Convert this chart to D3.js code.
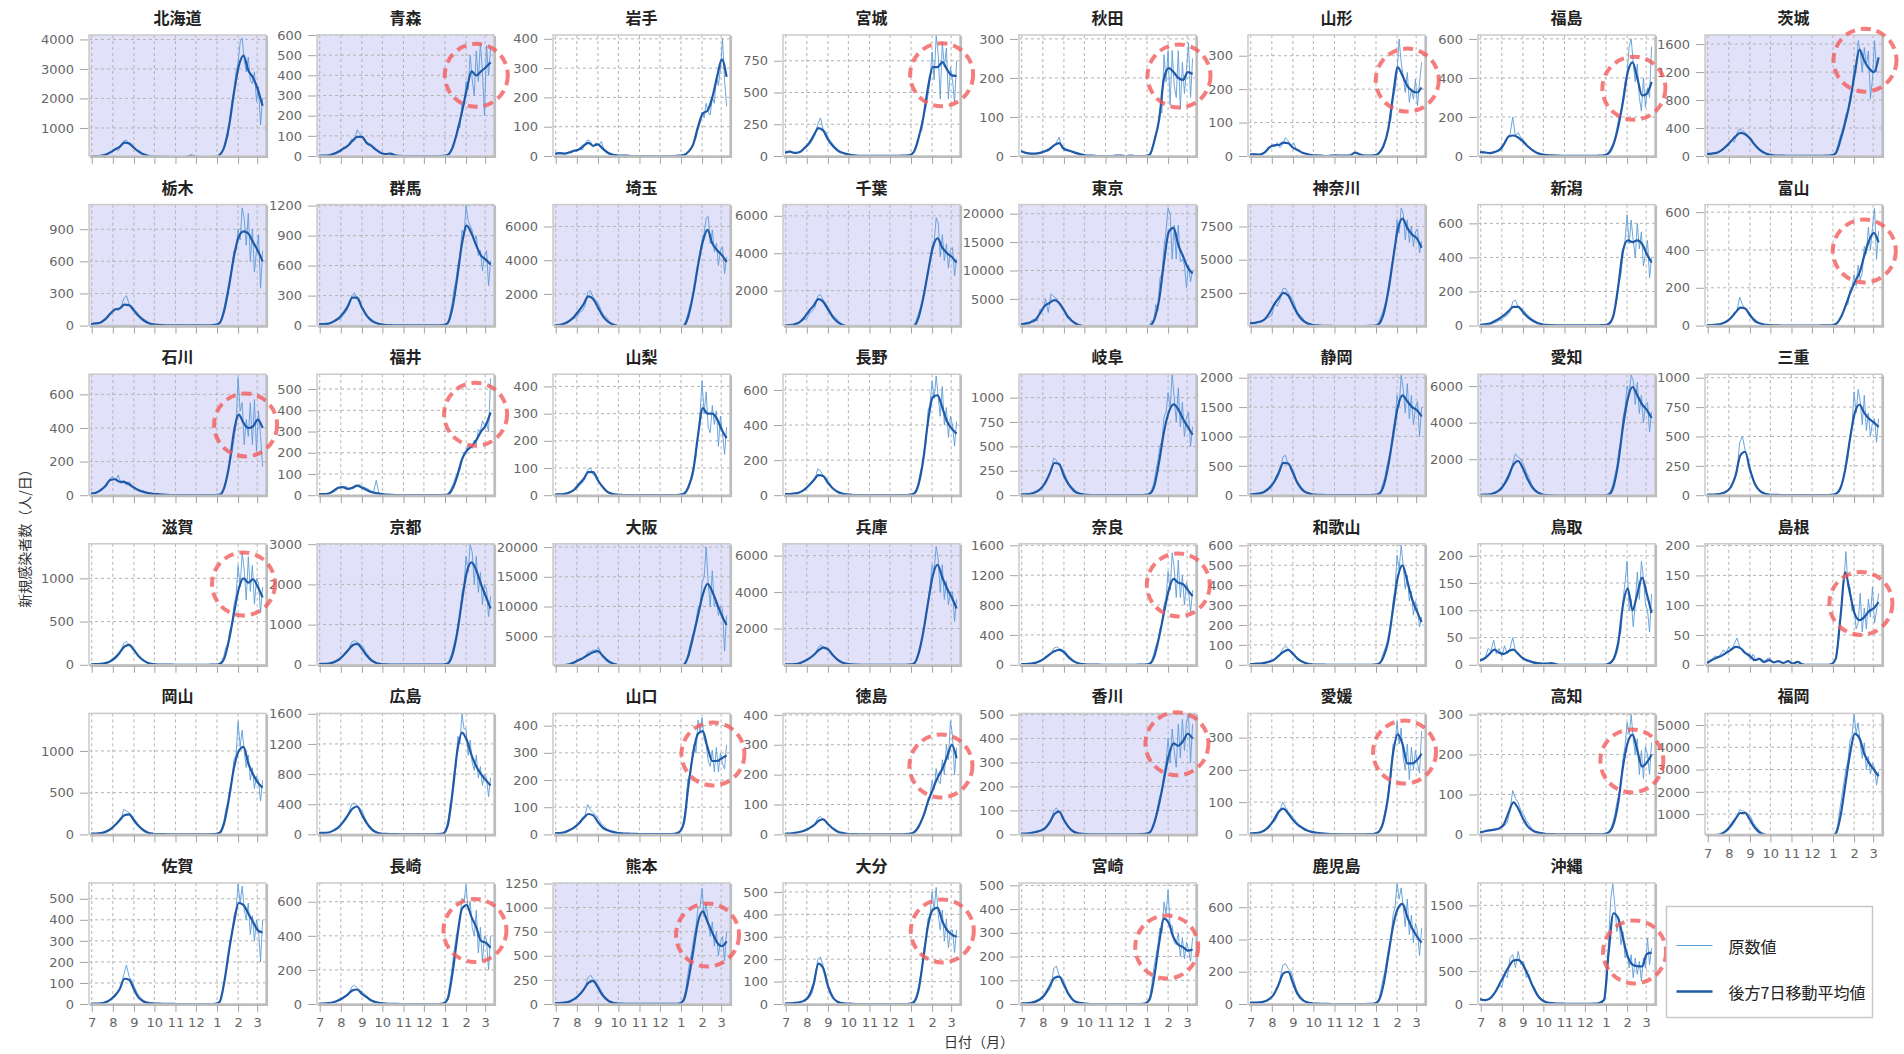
<!DOCTYPE html>
<html>
<head>
<meta charset="utf-8">
<script src="https://cdn.jsdelivr.net/npm/d3@7"></script>
<style>
  html, body { margin: 0; padding: 0; background: #fff; }
  svg { display: block; }
</style>
</head>
<body>
<svg id="chart" width="1904" height="1054"></svg>
<script>
// ---------------------------------------------------------------
// Daily new COVID-19 cases by prefecture, Jul 2021 – Mar 2022
// ---------------------------------------------------------------

const prefectures = [
  "北海道","青森","岩手","宮城","秋田","山形","福島","茨城",
  "栃木","群馬","埼玉","千葉","東京","神奈川","新潟","富山",
  "石川","福井","山梨","長野","岐阜","静岡","愛知","三重",
  "滋賀","京都","大阪","兵庫","奈良","和歌山","鳥取","島根",
  "岡山","広島","山口","徳島","香川","愛媛","高知","福岡",
  "佐賀","長崎","熊本","大分","宮崎","鹿児島","沖縄"
];

// 1 = under priority preventive measures (shaded panel)
const priority = [
  1,1,0,0,0,0,0,1,
  1,1,1,1,1,1,0,0,
  1,0,0,0,1,1,1,0,
  0,1,1,1,0,0,0,0,
  0,0,0,0,1,0,0,0,
  0,0,1,0,0,0,0
];

// y-axis ranges and tick steps (persons/day)
const yMin = [
  50,0,0,0,0,0,0,0,
  0,0,120,130,300,40,0,0,
  0,0,0,0,0,0,30,0,
  0,0,200,10,0,0,0,0,
  0,0,0,0,0,0,0,90,
  0,0,0,0,0,0,0
];
const yMax = [
  4150,600,413,953,310,362,620,1730,
  1130,1210,7300,6600,21600,9150,710,640,
  720,570,445,690,1240,2060,6650,1030,
  1400,3010,20550,6650,1620,608,222,203,
  1450,1605,445,405,505,375,303,5520,
  575,710,1255,540,510,750,1840
];
const yStep = [
  1000,100,100,250,100,100,200,400,
  300,300,2000,2000,5000,2500,200,200,
  200,100,100,200,250,500,2000,250,
  500,1000,5000,2000,400,100,50,50,
  500,400,100,100,100,100,100,1000,
  100,200,250,100,100,200,500
];

// Month ticks on the time axis
const monthTickDates = ["2021-07-01","2021-08-01","2021-09-01","2021-10-01","2021-11-01",
                        "2021-12-01","2022-01-01","2022-02-01","2022-03-01"];
const monthTickLabels = ["7","8","9","10","11","12","1","2","3"];

// Backward 7-day moving average, weekly from 2021-06-30 to 2022-03-09
const avgStart = "2021-06-30", avgStepDays = 7;
const avgValues = [
  /* 北海道 */ [45,45,55,90,170,270,360,500,480,330,200,110,60,40, 30,25,20,15,12,15,25,60,30,15,12,12,20, 90,380,1100,2200,3100,3450,2950,2700,2300,1750],
  /* 青森 */ [2,2,3,10,20,35,50,75,95,95,65,50,30,15, 10,12,3,1,0,0,0,0,0,0,0,0,1, 5,40,120,220,330,420,400,420,440,465],
  /* 岩手 */ [8,10,8,12,18,22,35,45,35,40,25,12,5,2, 1,1,0,0,0,0,0,0,0,0,0,0,1, 3,15,40,100,145,155,200,270,330,270],
  /* 宮城 */ [25,35,25,30,60,100,160,220,200,130,80,45,25,15, 8,4,2,1,1,1,1,1,1,1,2,3,5, 30,140,300,540,700,700,740,680,635,630],
  /* 秋田 */ [12,8,6,6,8,12,18,28,33,18,14,10,6,3, 1,1,0,0,0,0,1,1,0,1,0,0,0, 3,40,95,200,225,215,200,195,215,210],
  /* 山形 */ [5,5,4,10,25,32,33,40,38,25,18,10,6,3, 2,1,0,1,2,1,1,2,10,5,1,1,2, 8,30,80,180,265,240,210,195,190,205],
  /* 福島 */ [20,18,15,20,30,60,100,105,95,75,50,30,15,8, 4,3,2,1,1,1,1,1,1,1,1,2,4, 15,60,150,280,430,480,400,310,320,380],
  /* 茨城 */ [30,35,45,80,140,210,280,330,310,250,160,90,45,20, 10,6,4,3,2,2,2,2,2,2,3,4,8, 40,230,480,780,1180,1520,1360,1250,1200,1410],
  /* 栃木 */ [15,20,30,60,110,150,160,195,190,140,90,50,25,12, 6,4,3,2,2,2,2,2,2,2,3,3,6, 25,150,380,650,830,880,860,780,700,600],
  /* 群馬 */ [15,15,20,40,70,120,190,280,280,180,100,50,25,12, 6,4,3,2,2,2,2,2,2,2,2,3,5, 25,180,480,820,1000,920,800,700,660,610],
  /* 埼玉 */ [150,170,250,400,650,1000,1400,1850,1700,1200,700,380,200,100, 50,30,20,10,8,6,5,5,5,5,8,12,25, 100,700,2000,3700,5100,5800,5000,4600,4300,3900],
  /* 千葉 */ [150,160,200,300,550,900,1200,1550,1400,1000,600,330,170,80, 40,25,15,10,6,5,4,4,4,5,7,10,20, 80,550,1600,3000,4300,4800,4300,4000,3800,3500],
  /* 東京 */ [560,650,900,1300,2500,3800,4300,4800,4300,3000,1700,900,450,230, 130,70,40,25,20,20,20,20,15,15,20,30,60, 200,1500,5000,11500,16800,17500,14500,12500,10500,9500],
  /* 神奈川 */ [220,250,330,500,950,1600,2100,2500,2300,1600,900,450,220,100, 50,30,20,12,10,8,8,8,8,8,10,15,30, 150,900,2600,5000,7300,8100,7400,6900,6600,5900],
  /* 新潟 */ [5,8,12,25,40,60,85,110,110,80,50,30,15,8, 4,3,2,1,1,1,1,1,1,1,1,2,3, 10,60,230,440,500,490,500,480,420,370],
  /* 富山 */ [3,3,5,10,20,40,70,95,90,55,25,12,5,3, 1,1,0,0,0,0,0,0,0,0,1,1,2, 8,40,100,170,230,280,370,450,490,440],
  /* 石川 */ [10,15,30,55,90,95,80,78,65,45,30,20,12,8, 6,4,2,1,0,0,0,0,0,0,0,1,1, 3,50,180,380,480,430,400,410,450,400],
  /* 福井 */ [5,5,8,20,35,38,30,35,45,35,25,15,10,6, 3,2,1,1,0,0,0,0,0,0,0,0,1, 3,30,90,170,210,230,260,300,330,390],
  /* 山梨 */ [3,3,5,10,20,40,60,85,85,55,30,12,5,2, 1,0,0,0,0,0,0,0,0,0,0,0,1, 5,30,90,220,320,300,300,280,240,210],
  /* 長野 */ [8,6,10,15,30,55,85,115,110,70,40,20,10,5, 2,1,1,1,0,0,0,0,0,0,1,1,2, 8,60,200,420,560,570,500,420,380,350],
  /* 岐阜 */ [8,10,15,30,60,120,220,330,320,200,110,50,20,8, 4,2,2,1,1,1,1,1,1,1,1,1,3, 15,100,350,650,850,930,880,780,700,620],
  /* 静岡 */ [15,20,30,60,120,220,380,550,540,380,200,90,40,15, 8,5,3,2,2,2,2,2,2,2,2,3,5, 20,150,500,1000,1500,1700,1600,1500,1450,1340],
  /* 愛知 */ [50,60,80,150,300,600,1100,1700,1900,1500,900,450,200,80, 35,20,12,8,6,5,5,5,5,5,5,8,15, 60,500,1800,3800,5300,5950,5500,5000,4700,4250],
  /* 三重 */ [5,5,8,15,30,70,170,340,370,220,100,40,15,6, 3,2,1,1,1,0,0,0,0,0,0,1,2, 10,60,220,480,700,770,700,650,620,580],
  /* 滋賀 */ [5,8,10,20,40,80,140,210,230,170,100,50,20,8, 3,2,1,1,0,0,0,0,0,0,0,1,2, 10,80,300,600,880,1000,950,990,900,780],
  /* 京都 */ [20,25,30,60,120,220,350,480,520,400,230,110,45,20, 10,6,4,3,2,2,2,2,2,2,3,4,8, 30,250,800,1600,2300,2550,2350,2000,1700,1400],
  /* 大阪 */ [90,100,150,280,600,1000,1400,1900,2300,2500,1700,900,450,200, 100,60,40,25,15,12,10,10,10,10,12,20,40, 200,1800,5000,8500,12000,13800,12500,10500,8500,6900],
  /* 兵庫 */ [40,40,50,90,200,350,550,800,950,850,550,300,140,60, 30,20,12,8,5,4,4,4,4,4,5,8,15, 60,600,1800,3400,4900,5500,4800,4200,3700,3100],
  /* 奈良 */ [10,10,15,25,50,90,140,180,200,170,100,50,20,8, 4,3,2,1,1,1,1,1,1,1,1,2,3, 15,120,380,700,1000,1150,1100,1080,1000,920],
  /* 和歌山 */ [3,5,6,10,15,25,45,65,75,55,30,15,6,2, 1,1,0,0,0,0,0,0,0,0,0,0,1, 5,40,120,280,440,500,420,330,270,215],
  /* 鳥取 */ [8,12,20,28,22,20,25,28,20,12,8,5,3,2, 2,3,1,0,0,0,0,0,0,0,0,0,0, 2,10,40,110,140,100,130,160,130,95],
  /* 島根 */ [3,8,12,15,20,25,30,28,20,15,8,10,5,8, 4,6,3,6,2,5,1,0,0,0,0,0,1, 10,80,155,120,85,75,80,90,95,105],
  /* 岡山 */ [10,10,15,30,60,110,170,230,240,170,100,50,20,8, 4,3,2,2,1,1,1,1,1,1,1,2,4, 20,150,450,800,1000,1050,850,720,620,560],
  /* 広島 */ [20,20,25,50,90,160,250,340,370,260,150,70,30,12, 6,4,3,2,2,2,2,2,2,2,2,3,10, 120,550,1100,1350,1250,1050,900,800,720,650],
  /* 山口 */ [5,5,8,15,25,40,60,75,70,45,25,15,10,6, 4,3,2,2,1,1,1,1,1,1,1,2,8, 40,180,300,370,380,320,270,270,280,290],
  /* 徳島 */ [3,3,5,8,12,20,30,45,50,35,20,10,5,2, 1,1,0,0,0,0,0,0,0,0,0,1,2, 6,25,60,110,150,190,220,260,300,255],
  /* 香川 */ [3,3,5,10,15,25,50,85,95,60,30,12,5,2, 1,0,0,0,0,0,0,0,0,0,0,1,2, 8,50,130,230,330,380,370,390,420,400],
  /* 愛媛 */ [3,4,6,12,25,45,70,80,65,45,30,20,12,8, 5,3,2,1,1,0,0,0,0,0,0,1,2, 8,40,120,250,310,280,220,220,230,250],
  /* 高知 */ [5,8,10,12,15,25,55,80,65,40,20,10,5,3, 1,1,0,0,0,0,0,0,0,0,0,0,1, 5,25,80,170,230,250,210,170,180,200],
  /* 福岡 */ [40,40,60,120,250,500,800,1050,1050,750,400,180,80,35, 15,10,8,6,5,5,5,5,5,5,5,8,20, 120,900,2300,3700,4600,4400,3700,3300,3000,2700],
  /* 佐賀 */ [2,2,3,8,20,40,70,120,115,70,30,12,5,3, 2,1,1,1,0,0,0,0,0,0,0,0,1, 10,110,260,390,480,470,430,390,350,340],
  /* 長崎 */ [3,3,5,10,20,35,55,80,85,60,40,20,10,5, 2,1,1,0,0,0,0,0,0,0,0,0,2, 30,180,390,560,580,510,450,370,360,330],
  /* 熊本 */ [10,10,15,25,50,90,150,220,240,170,90,40,15,6, 3,2,1,1,1,1,1,1,1,1,1,2,5, 40,250,550,850,960,850,740,640,600,650],
  /* 大分 */ [3,3,5,8,15,35,90,180,160,80,30,10,4,2, 1,0,0,0,0,0,0,0,0,0,0,0,1, 8,60,200,350,420,430,370,330,310,300],
  /* 宮崎 */ [3,3,5,10,20,40,75,110,115,80,40,15,6,3, 1,0,0,0,0,0,0,0,0,0,0,0,2, 20,120,260,360,340,280,250,240,225,230],
  /* 鹿児島 */ [8,8,10,15,30,60,120,190,200,130,60,25,10,4, 2,1,1,0,0,0,0,0,0,0,0,1,3, 20,120,300,480,590,620,540,470,420,380],
  /* 沖縄 */ [70,60,80,160,290,430,560,660,670,600,450,280,140,60, 25,12,8,5,4,3,3,3,3,3,5,15,60, 800,1380,1300,1000,720,600,575,570,760,780]
];

// Reported daily counts, summer wave: every 4 days from 2021-06-30
const summerStart = "2021-06-30", summerStepDays = 4;
const rawSummer = [
  /* 北海道 */ [40,55,35,60,50,100,110,190,180,300,230,420,560,590,430,380,340,210,230,120,100,60,40,45,25],
  /* 青森 */ [3,2,4,2,6,12,18,25,20,45,40,60,85,75,130,110,95,70,55,60,35,30,20,12,10],
  /* 岩手 */ [6,12,8,10,7,14,10,20,15,25,20,40,55,50,30,45,35,50,20,18,8,6,4,2,1],
  /* 宮城 */ [20,30,40,25,20,35,30,60,70,90,120,170,250,300,210,190,140,110,80,60,40,30,20,15,10],
  /* 秋田 */ [15,10,8,6,5,7,6,9,8,14,12,20,25,35,48,20,22,15,12,10,6,7,4,3,2],
  /* 山形 */ [6,4,6,5,3,8,12,20,30,28,40,25,35,55,45,30,40,20,15,10,8,6,4,2,1],
  /* 福島 */ [15,25,20,15,12,20,25,35,30,70,90,110,200,100,120,95,80,60,40,30,20,15,10,8,5],
  /* 茨城 */ [25,30,35,40,45,70,90,130,150,220,200,330,390,360,340,290,260,200,140,110,70,50,30,20,12],
  /* 栃木 */ [15,18,25,20,30,50,70,100,120,160,140,170,250,280,200,180,150,120,90,70,50,35,20,15,8],
  /* 群馬 */ [12,15,20,15,25,30,45,60,70,110,140,200,300,330,260,220,180,130,90,70,50,30,20,12,8],
  /* 埼玉 */ [130,180,160,200,250,320,450,550,600,900,1000,1300,2100,2200,1800,1600,1400,1000,700,600,350,250,180,120,60],
  /* 千葉 */ [130,170,150,180,200,260,350,450,500,800,900,1100,1700,1800,1500,1300,1100,800,600,500,300,200,140,100,50],
  /* 東京 */ [700,520,900,500,1300,1400,1100,3200,3000,5000,2600,5900,5400,5100,4200,3600,3100,1600,1800,1000,860,250,380,220,90],
  /* 神奈川 */ [200,280,240,350,300,420,550,700,800,1700,1500,2000,2800,2850,2500,2200,1900,1200,900,700,400,280,180,120,60],
  /* 新潟 */ [5,6,8,10,8,15,20,30,35,50,60,80,140,150,110,100,90,70,55,40,30,20,12,8,4],
  /* 富山 */ [3,4,2,5,6,8,15,22,30,50,60,80,150,110,90,80,60,40,30,15,10,6,4,2,1],
  /* 石川 */ [8,12,15,20,30,45,60,100,110,90,120,70,90,60,80,55,50,35,30,25,18,12,10,8,6],
  /* 福井 */ [10,5,6,4,8,12,20,30,40,35,42,25,30,35,45,50,40,35,30,20,15,70,8,6,3],
  /* 山梨 */ [2,4,3,5,4,8,12,18,25,35,45,60,95,100,75,70,50,35,25,15,8,5,3,2,1],
  /* 長野 */ [6,8,5,10,8,15,20,35,45,60,70,90,150,140,110,100,80,50,35,25,15,10,6,4,2],
  /* 岐阜 */ [6,10,12,10,18,25,40,70,90,150,180,260,380,360,300,280,220,150,100,80,40,25,15,8,4],
  /* 静岡 */ [12,20,18,25,25,50,70,110,140,230,280,400,650,680,520,480,420,260,200,130,80,45,30,15,8],
  /* 愛知 */ [40,60,55,70,80,110,160,250,350,600,800,1100,1800,2300,2100,2000,1700,1300,1000,600,350,200,120,70,40],
  /* 三重 */ [4,6,5,8,10,14,20,35,45,90,120,200,450,500,380,300,200,130,80,50,25,15,8,5,3],
  /* 滋賀 */ [4,6,8,10,8,15,20,30,50,70,100,160,250,270,230,200,180,120,80,60,30,20,10,6,3],
  /* 京都 */ [18,25,22,30,30,50,70,100,150,250,280,400,560,600,560,520,470,330,250,150,100,60,35,20,10],
  /* 大阪 */ [80,110,100,120,140,250,350,500,700,1200,1100,1500,2300,2400,2700,2600,3100,2000,1700,1200,900,500,400,250,120],
  /* 兵庫 */ [35,45,40,50,45,80,110,180,260,380,420,600,900,1100,1000,950,900,700,500,350,250,150,100,60,35],
  /* 奈良 */ [8,12,10,15,12,20,30,45,60,100,110,150,220,240,220,200,190,140,100,70,40,25,12,8,4],
  /* 和歌山 */ [2,4,6,5,8,10,12,15,20,30,40,55,80,95,80,70,60,40,30,20,10,6,3,2,1],
  /* 鳥取 */ [5,10,15,30,25,45,20,30,15,35,20,30,50,25,20,15,12,6,8,4,3,2,5,2,3],
  /* 島根 */ [2,5,10,15,12,18,25,20,30,25,35,45,30,25,20,15,10,18,6,12,5,3,10,12,3],
  /* 岡山 */ [8,12,10,15,14,22,35,50,70,110,140,180,300,280,260,220,180,130,90,60,35,20,12,8,4],
  /* 広島 */ [15,20,25,20,30,45,60,90,120,160,200,300,400,420,380,350,300,200,140,100,50,35,20,12,6],
  /* 山口 */ [4,6,5,8,10,15,20,30,35,45,60,70,110,90,80,70,55,40,30,20,15,10,8,6,4],
  /* 徳島 */ [2,4,3,5,4,8,10,14,15,22,25,35,55,60,50,45,35,25,15,10,6,4,2,1,1],
  /* 香川 */ [2,4,3,5,4,8,12,15,20,25,35,55,100,110,95,80,60,40,25,15,8,4,2,1,1],
  /* 愛媛 */ [2,4,5,6,5,10,15,20,35,40,55,75,100,85,70,60,50,40,30,25,15,12,8,5,3],
  /* 高知 */ [4,6,8,10,12,10,14,15,18,22,30,60,110,90,80,60,50,35,25,15,8,5,3,2,1],
  /* 福岡 */ [35,50,45,60,70,120,150,220,300,450,600,900,1200,1150,1100,1000,900,600,450,300,180,120,70,40,20],
  /* 佐賀 */ [1,2,2,3,4,8,10,18,30,35,60,80,140,185,130,110,80,50,35,20,12,6,4,3,2],
  /* 長崎 */ [2,3,4,5,8,10,15,25,30,40,45,60,100,110,95,80,70,55,40,25,15,10,6,3,2],
  /* 熊本 */ [8,12,10,15,14,22,30,45,60,90,120,160,270,300,260,230,190,130,90,60,30,20,10,6,3],
  /* 大分 */ [2,3,4,5,4,6,10,12,18,30,50,110,200,210,170,130,80,50,25,12,6,3,2,1,1],
  /* 宮崎 */ [2,3,4,6,5,8,12,20,25,40,55,70,150,160,120,110,90,55,40,20,10,5,3,2,1],
  /* 鹿児島 */ [6,10,8,12,10,15,20,35,45,70,110,150,240,250,220,200,150,90,60,40,20,10,6,3,2],
  /* 沖縄 */ [80,60,50,70,90,140,220,300,250,450,400,700,750,550,800,600,650,400,450,300,250,150,100,60,30]
];

// Reported daily counts, winter wave: every 3 days from 2021-12-27
const winterStart = "2021-12-27", winterStepDays = 3;
const rawWinter = [
  /* 北海道 */ [10,20,25,70,200,260,600,700,1350,1900,2300,2900,3200,3900,4050,3300,2900,3400,2600,2500,2900,1900,2400,1100,2000],
  /* 青森 */ [0,1,3,8,20,40,70,90,150,140,260,250,370,330,500,380,300,520,370,560,420,200,550,400,540],
  /* 岩手 */ [0,1,2,4,8,12,20,30,45,60,90,110,150,130,180,150,140,200,180,270,240,300,400,260,170],
  /* 宮城 */ [3,6,15,30,60,100,180,200,330,380,480,600,820,600,950,800,450,900,700,850,450,700,600,420,750],
  /* 秋田 */ [0,1,2,5,20,35,60,75,120,110,260,190,270,130,270,180,150,270,120,240,160,220,290,150,250],
  /* 山形 */ [1,2,4,10,20,25,40,60,90,110,170,200,250,350,280,240,190,250,160,200,170,230,150,220,280],
  /* 福島 */ [3,5,10,20,40,60,90,140,200,230,300,380,420,560,600,480,380,470,300,230,400,250,350,300,560],
  /* 茨城 */ [6,10,25,60,150,260,350,450,600,650,850,950,1300,1250,1650,1500,1200,1550,1300,1500,820,1100,1650,1200,1200],
  /* 栃木 */ [3,5,15,30,80,150,250,350,450,550,700,700,900,800,1100,1000,750,1050,600,900,500,700,850,350,700],
  /* 群馬 */ [3,5,15,30,100,200,350,450,600,700,950,900,1200,1050,1000,950,850,900,700,750,550,700,750,400,650],
  /* 埼玉 */ [20,30,50,150,400,800,1300,1700,2300,2800,3600,4500,5200,5600,6500,6600,5000,5800,4500,5000,3700,4600,4800,3200,4200],
  /* 千葉 */ [15,25,40,120,350,650,1000,1400,1900,2300,3000,3600,4400,4600,5900,5600,3800,5000,3600,4500,3200,4200,4300,2800,3700],
  /* 東京 */ [50,100,80,400,1200,960,4000,3000,8600,9500,14000,17000,21000,20000,12000,18000,12000,18000,11500,12000,11000,7000,11000,8000,10000],
  /* 神奈川 */ [40,60,100,300,700,1100,1600,2200,3300,4000,5200,5900,8000,7000,8900,8500,6500,8000,6300,7500,6000,7100,7300,5500,6400],
  /* 新潟 */ [2,3,6,15,30,50,90,150,250,300,420,500,650,480,620,500,400,600,450,550,350,420,500,280,400],
  /* 富山 */ [0,1,3,6,15,30,50,80,120,110,190,200,270,210,320,240,280,420,380,520,400,520,620,350,500],
  /* 石川 */ [0,1,2,5,15,40,80,130,200,250,330,420,700,500,550,300,450,350,550,300,570,260,500,350,170],
  /* 福井 */ [0,1,2,5,20,40,60,90,110,120,160,200,210,230,240,220,260,240,310,300,350,330,340,300,550],
  /* 山梨 */ [0,1,2,6,15,30,50,80,110,140,220,300,420,300,380,250,230,330,260,310,180,290,230,150,250],
  /* 長野 */ [1,2,4,10,30,60,120,170,250,300,480,520,650,550,680,560,450,620,400,500,330,450,400,280,420],
  /* 岐阜 */ [2,4,8,25,60,120,250,350,500,560,800,850,1050,900,1240,1000,750,1100,700,950,600,800,850,500,700],
  /* 静岡 */ [3,5,10,40,80,200,300,500,650,800,1100,1300,1700,1500,2050,1800,1400,1900,1300,1700,1200,1500,1600,1000,1500],
  /* 愛知 */ [10,15,30,100,300,600,1100,1600,2500,3000,4300,4800,6000,5600,6600,6300,5000,6200,4500,5500,4000,5000,5100,3500,4600],
  /* 三重 */ [1,2,5,15,30,60,100,150,250,320,500,600,880,700,900,800,600,850,550,700,500,620,650,450,650],
  /* 滋賀 */ [1,3,6,20,50,100,200,250,400,450,700,800,1150,900,1300,1100,750,1250,850,1150,700,1000,950,600,900],
  /* 京都 */ [5,8,15,50,150,300,500,700,1000,1200,1800,2000,2700,2300,3000,2800,2000,2700,1800,2300,1500,2000,1900,1200,1700],
  /* 大阪 */ [30,50,60,250,700,1700,3500,4700,6000,7500,9800,10000,14000,15000,20000,14000,10000,16000,10000,11000,8500,10000,9500,2500,8500],
  /* 兵庫 */ [10,20,25,100,250,600,1000,1400,2000,2600,3500,4200,5500,5200,6500,5800,4000,5500,3600,4600,3300,4000,4000,2400,3600],
  /* 奈良 */ [2,4,8,25,60,150,250,320,480,550,800,900,1250,1000,1500,1300,900,1400,900,1200,800,1100,1000,700,1000],
  /* 和歌山 */ [0,1,2,8,20,50,80,110,160,200,320,380,550,480,600,500,380,450,320,370,250,320,280,190,240],
  /* 鳥取 */ [0,0,1,2,5,10,20,35,50,60,120,150,190,100,120,70,110,170,120,190,160,110,100,60,130],
  /* 島根 */ [0,1,2,10,30,60,110,140,190,130,130,90,100,60,70,120,55,95,60,110,80,130,70,90,120],
  /* 岡山 */ [2,4,10,30,80,150,300,380,550,650,900,950,1350,1050,1250,1000,800,950,650,800,550,700,650,400,650],
  /* 広島 */ [5,20,60,150,350,500,800,900,1300,1200,1600,1400,1400,1050,1250,950,850,1050,750,900,650,800,750,500,750],
  /* 山口 */ [2,10,20,50,100,200,220,280,330,300,420,380,430,350,330,270,250,310,230,320,230,300,260,240,330],
  /* 徳島 */ [0,1,3,8,15,25,35,50,70,80,120,130,180,150,220,180,170,250,200,300,250,380,330,200,290],
  /* 香川 */ [1,2,4,10,25,50,80,120,160,180,260,300,400,300,440,350,280,460,320,480,350,470,500,300,460],
  /* 愛媛 */ [0,1,3,10,20,40,70,100,150,180,280,280,350,280,330,240,200,280,170,270,200,260,220,190,320],
  /* 高知 */ [0,1,2,6,15,30,50,80,100,130,190,220,280,250,300,240,200,240,150,210,140,220,200,150,230],
  /* 福岡 */ [10,25,50,200,500,1200,1800,2400,3000,3400,4300,4500,5500,4600,5100,4200,3500,4200,3000,3600,2800,3300,3100,2300,2900],
  /* 佐賀 */ [0,1,2,15,50,90,150,200,300,330,420,450,570,480,560,450,400,480,330,420,300,400,350,200,400],
  /* 長崎 */ [0,2,8,40,120,200,300,380,450,500,620,600,700,550,600,450,400,550,300,450,250,400,380,200,400],
  /* 熊本 */ [2,5,20,60,150,300,450,550,700,800,1000,1000,1200,900,1050,850,700,850,600,750,500,650,700,450,750],
  /* 大分 */ [0,1,3,10,30,60,110,160,250,280,380,400,500,420,520,400,330,420,280,380,250,330,330,230,330],
  /* 宮崎 */ [0,2,8,30,80,150,200,250,320,300,430,380,480,330,330,260,250,300,200,280,190,260,230,180,280],
  /* 鹿児島 */ [1,3,10,30,80,150,200,280,350,400,550,600,750,650,720,600,480,650,430,550,380,500,450,300,470],
  /* 沖縄 */ [20,80,300,1000,1600,1830,1500,1100,1300,900,1100,700,800,550,750,400,700,450,650,350,700,550,1000,600,850]
];

// Highlighted spots: [prefecture, date, cases/day]
const highlightNames  = ["青森","宮城","秋田","山形","福島","茨城","富山","石川","福井","滋賀","奈良","島根",
                         "山口","徳島","香川","愛媛","高知","長崎","熊本","大分","宮崎","沖縄"];
const highlightDates  = ["2022-02-16","2022-02-15","2022-02-17","2022-02-16","2022-02-11","2022-02-17","2022-02-16",
                         "2022-02-12","2022-02-15","2022-02-09","2022-02-16","2022-02-11","2022-02-17","2022-02-14",
                         "2022-02-14","2022-02-12","2022-02-08","2022-02-14","2022-02-09","2022-02-16","2022-01-30",
                         "2022-02-12"];
const highlightValues = [400,640,205,227,347,1370,395,418,381,935,1070,103,296,229,378,255,184,431,716,326,240,791];

const legendLabels = ["原数値", "後方7日移動平均値"];
const axisTitleY = "新規感染者数（人/日）";
const axisTitleX = "日付（月）";

// ---------------------------------------------------------------
// Layout
// ---------------------------------------------------------------
const colLeft = [89, 317, 553, 783, 1019, 1248, 1478, 1705];
const rowTop = [35, 204.6, 374.2, 543.8, 713.4, 883];
const PW = 177, PH = 121;

const COLOR_RAW = "#5d9cd8";
const COLOR_AVG = "#1f5aa8";
const COLOR_SHADE = "#e1e1fa";
const COLOR_GRID = "#b3b3b3";
const TICK_FONT = "13px 'DejaVu Sans', Verdana, sans-serif";
const CJK_FONT = "'Noto Sans CJK JP', 'Noto Sans', sans-serif";

const parse = d3.timeParse("%Y-%m-%d");
const monthTicks = monthTickDates.map(parse);
const stepDates = (start, step, n) => d3.range(n).map(k => d3.timeDay.offset(parse(start), step * k));
const avgDates = stepDates(avgStart, avgStepDays, avgValues[0].length);
const summerDates = stepDates(summerStart, summerStepDays, rawSummer[0].length);
const winterDates = stepDates(winterStart, winterStepDays, rawWinter[0].length);

const x = d3.scaleTime()
  .domain([parse("2021-06-27"), parse("2022-03-14")])
  .range([0, PW]);

const svg = d3.select("#chart");
const defs = svg.append("defs");
const yScales = [];

prefectures.forEach((name, i) => {
  const r = Math.floor(i / 8), c = i % 8;
  const g = svg.append("g").attr("transform", `translate(${colLeft[c]},${rowTop[r]})`);
  const y = d3.scaleLinear().domain([yMin[i], yMax[i]]).range([PH, 0]);
  yScales.push(y);
  const first = Math.ceil(yMin[i] / yStep[i]) * yStep[i];
  const yTicks = d3.range(first, yMax[i] + 1e-6, yStep[i]);

  // plot background
  g.append("rect").attr("width", PW).attr("height", PH)
    .attr("fill", priority[i] ? COLOR_SHADE : "#ffffff");

  // dashed grid
  g.append("g").selectAll("line").data(monthTicks).join("line")
    .attr("x1", d => x(d)).attr("x2", d => x(d))
    .attr("y1", 0).attr("y2", PH)
    .attr("stroke", COLOR_GRID).attr("stroke-width", 1).attr("stroke-dasharray", "3,3");
  g.append("g").selectAll("line").data(yTicks).join("line")
    .attr("x1", 0).attr("x2", PW)
    .attr("y1", d => y(d)).attr("y2", d => y(d))
    .attr("stroke", COLOR_GRID).attr("stroke-width", 1).attr("stroke-dasharray", "3,3");

  // series, clipped to the plot area
  defs.append("clipPath").attr("id", "clip" + i)
    .append("rect").attr("width", PW).attr("height", PH);
  const plot = g.append("g").attr("clip-path", `url(#clip${i})`);

  const rawLine = d3.line().x(d => x(d.date)).y(d => y(d.v));
  const avgLine = d3.line().x(d => x(d.date)).y(d => y(d.v)).curve(d3.curveMonotoneX);

  [[summerDates, rawSummer[i]], [winterDates, rawWinter[i]]].forEach(([dates, vals]) => {
    plot.append("path")
      .datum(dates.map((d, j) => ({ date: d, v: vals[j] })))
      .attr("d", rawLine)
      .attr("fill", "none").attr("stroke", COLOR_RAW)
      .attr("stroke-width", 1).attr("stroke-opacity", 0.9)
      .attr("stroke-linejoin", "round");
  });
  plot.append("path")
    .datum(avgDates.map((d, j) => ({ date: d, v: avgValues[i][j] })))
    .attr("d", avgLine)
    .attr("fill", "none").attr("stroke", COLOR_AVG)
    .attr("stroke-width", 2.2).attr("stroke-linejoin", "round");

  // frame with a slightly heavier lower/right edge
  g.append("rect").attr("width", PW).attr("height", PH)
    .attr("fill", "none").attr("stroke", "#cacaca").attr("stroke-width", 1.5);
  g.append("path").attr("d", `M${PW + 1},1V${PH + 1}H1`)
    .attr("fill", "none").attr("stroke", "#bdbdbd").attr("stroke-width", 2.2);

  // y axis
  const ya = g.append("g").attr("transform", "translate(-1,0)")
    .call(d3.axisLeft(y).tickValues(yTicks).tickSize(8).tickPadding(6)
      .tickSizeOuter(0).tickFormat(d3.format("d")));
  ya.select(".domain").remove();
  ya.selectAll(".tick line").attr("stroke", "#a3a3a3");
  ya.selectAll(".tick text").attr("fill", "#666").style("font", TICK_FONT);

  // x axis; month labels only where no panel sits below
  const showLabels = i + 8 >= prefectures.length;
  const xa = g.append("g").attr("transform", `translate(0,${PH + 1})`)
    .call(d3.axisBottom(x).tickValues(monthTicks).tickSize(7).tickPadding(6)
      .tickFormat((d, k) => showLabels ? monthTickLabels[k] : ""));
  xa.select(".domain").remove();
  xa.selectAll(".tick line").attr("stroke", "#a3a3a3");
  xa.selectAll(".tick text").attr("fill", "#666").style("font", TICK_FONT);

  // panel title
  g.append("text")
    .attr("x", PW / 2).attr("y", -11)
    .attr("text-anchor", "middle")
    .style("font-family", CJK_FONT).style("font-size", "16px").style("font-weight", "700")
    .attr("fill", "#222")
    .text(name);
});

// dashed red highlight rings, drawn above every panel
const ringLayer = svg.append("g");
highlightNames.forEach((name, k) => {
  const i = prefectures.indexOf(name);
  const r = Math.floor(i / 8), c = i % 8;
  ringLayer.append("circle")
    .attr("cx", colLeft[c] + x(parse(highlightDates[k])))
    .attr("cy", rowTop[r] + yScales[i](highlightValues[k]))
    .attr("r", 31.5)
    .attr("fill", "none")
    .attr("stroke", "#f25c5c").attr("stroke-opacity", 0.8)
    .attr("stroke-width", 4).attr("stroke-dasharray", "10,6");
});

// axis titles
svg.append("text")
  .attr("transform", "translate(26,535) rotate(-90)")
  .attr("text-anchor", "middle").attr("dominant-baseline", "middle")
  .style("font-family", CJK_FONT).style("font-size", "14px")
  .attr("fill", "#333")
  .text(axisTitleY);
svg.append("text")
  .attr("x", 979).attr("y", 1047)
  .attr("text-anchor", "middle")
  .style("font-family", CJK_FONT).style("font-size", "14px")
  .attr("fill", "#333")
  .text(axisTitleX);

// legend
const lg = svg.append("g").attr("transform", "translate(1666.5,906.5)");
lg.append("rect").attr("width", 206).attr("height", 111)
  .attr("fill", "#fff").attr("stroke", "#c8c8c8").attr("stroke-width", 1.5);
const legendStyles = [
  { color: COLOR_RAW, width: 1, y: 39 },
  { color: COLOR_AVG, width: 2.6, y: 85 }
];
legendLabels.forEach((label, k) => {
  const s = legendStyles[k];
  lg.append("line").attr("x1", 10).attr("x2", 46).attr("y1", s.y).attr("y2", s.y)
    .attr("stroke", s.color).attr("stroke-width", s.width);
  lg.append("text").attr("x", 62).attr("y", s.y)
    .attr("dominant-baseline", "central")
    .style("font-family", CJK_FONT).style("font-size", "16px")
    .attr("fill", "#222")
    .text(label);
});
</script>
</body>
</html>
